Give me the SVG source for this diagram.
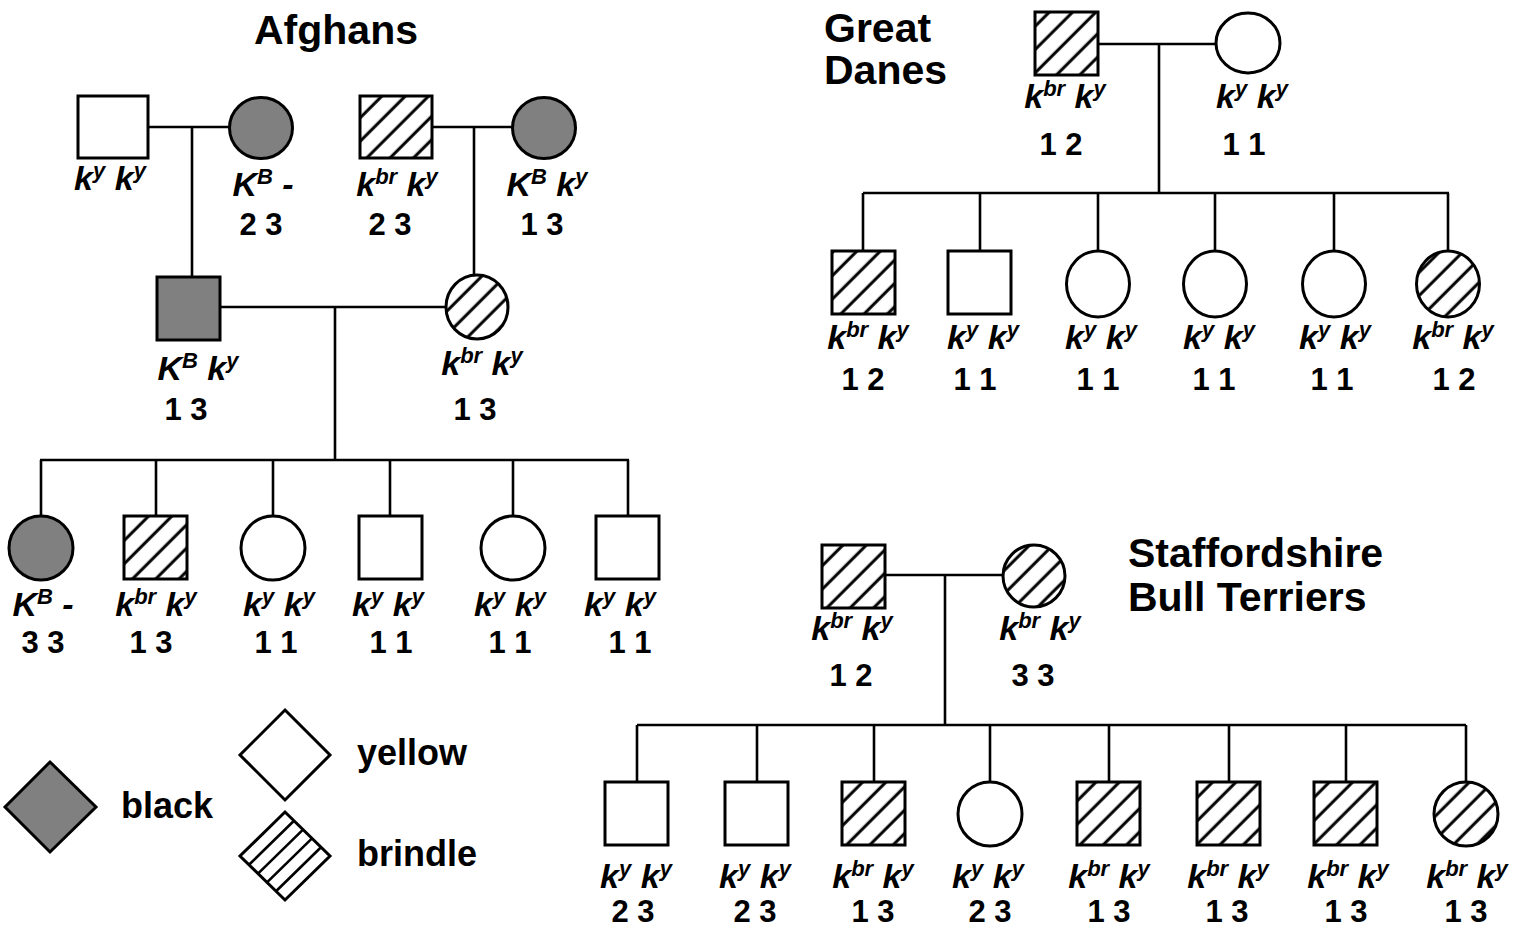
<svg xmlns="http://www.w3.org/2000/svg" width="1527" height="929" viewBox="0 0 1527 929">
  <defs>
    <pattern id="hatch" patternUnits="userSpaceOnUse" width="16.5" height="16.5" patternTransform="rotate(-45)">
      <line x1="-2" y1="8" x2="20" y2="8" stroke="#000" stroke-width="3"/>
    </pattern>
    <style>
      .nd { stroke: #000; stroke-width: 3; }
      .wh { fill: #fff; }
      .bk { fill: #808080; }
      .br { fill: url(#hatch); }
      .ln { stroke: #000; stroke-width: 2.6; fill: none; }
      .g { font-family: "Liberation Sans", Arial, sans-serif; font-style: italic; font-weight: bold; font-size: 34px; fill: #000; text-anchor: middle; }
      .s { font-size: 22px; }
      .n { font-family: "Liberation Sans", Arial, sans-serif; font-weight: bold; font-size: 31px; fill: #000; text-anchor: middle; }
      .t { font-family: "Liberation Sans", Arial, sans-serif; font-weight: bold; font-size: 41px; fill: #000; }
      .lg { font-family: "Liberation Sans", Arial, sans-serif; font-weight: bold; font-size: 36px; fill: #000; }
    </style>
  </defs>
  <rect width="1527" height="929" fill="#fff"/>

  <!-- titles -->
  <g id="titles">
    <text class="t" x="254" y="44">Afghans</text>
    <text class="t" x="824" y="42">Great</text>
    <text class="t" x="824" y="84">Danes</text>
    <text class="t" x="1128" y="567">Staffordshire</text>
    <text class="t" x="1128" y="611">Bull Terriers</text>
  </g>

  <!-- connectors -->
  <g id="connectors" class="ln">
    <!-- Afghans -->
    <path d="M148 127H230M192 127V277"/>
    <path d="M432 127H513M474 127V276"/>
    <path d="M220 307H446M335 307V460"/>
    <path d="M40 460H629"/>
    <path d="M41 460V516M156 460V516M273 460V516M390 460V516M513 460V516M628 460V516"/>
    <!-- Great Danes -->
    <path d="M1098 44H1216M1159 44V193"/>
    <path d="M863 193H1449"/>
    <path d="M863 193V251M980 193V251M1098 193V251M1215 193V251M1334 193V251M1448 193V251"/>
    <!-- Staffordshire Bull Terriers -->
    <path d="M885 575H1003M945 575V725"/>
    <path d="M637 725H1466"/>
    <path d="M637 725V782M757 725V782M874 725V782M990 725V782M1109 725V782M1229 725V782M1346 725V782M1466 725V782"/>
  </g>

  <!-- Afghans pedigree -->
  <g id="af-sire1"><rect class="nd wh" x="78" y="96" width="70" height="62"/>
    <text class="g" x="110" y="190">k<tspan class="s" dy="-12">y</tspan><tspan dy="12"> k</tspan><tspan class="s" dy="-12">y</tspan></text></g>
  <g id="af-dam1"><ellipse class="nd bk" cx="261" cy="128" rx="31.5" ry="30.5"/>
    <text class="g" x="263" y="196">K<tspan class="s" dy="-12">B</tspan><tspan dy="12"> -</tspan></text>
    <text class="n" x="261" y="235">2 3</text></g>
  <g id="af-sire2"><rect class="nd br" x="360" y="96" width="72" height="62"/>
    <text class="g" x="397" y="196">k<tspan class="s" dy="-12">br</tspan><tspan dy="12"> k</tspan><tspan class="s" dy="-12">y</tspan></text>
    <text class="n" x="390" y="235">2 3</text></g>
  <g id="af-dam2"><ellipse class="nd bk" cx="544" cy="128" rx="31.5" ry="30.5"/>
    <text class="g" x="547" y="196">K<tspan class="s" dy="-12">B</tspan><tspan dy="12"> k</tspan><tspan class="s" dy="-12">y</tspan></text>
    <text class="n" x="542" y="235">1 3</text></g>
  <g id="af-sire3"><rect class="nd bk" x="157" y="277" width="63" height="63"/>
    <text class="g" x="198" y="380">K<tspan class="s" dy="-12">B</tspan><tspan dy="12"> k</tspan><tspan class="s" dy="-12">y</tspan></text>
    <text class="n" x="186" y="420">1 3</text></g>
  <g id="af-dam3"><ellipse class="nd br" cx="477" cy="307" rx="31" ry="32"/>
    <text class="g" x="482" y="375">k<tspan class="s" dy="-12">br</tspan><tspan dy="12"> k</tspan><tspan class="s" dy="-12">y</tspan></text>
    <text class="n" x="475" y="420">1 3</text></g>
  <g id="af-pup1"><circle class="nd bk" cx="41" cy="548" r="32"/>
    <text class="g" x="43" y="616">K<tspan class="s" dy="-12">B</tspan><tspan dy="12"> -</tspan></text>
    <text class="n" x="43" y="653">3 3</text></g>
  <g id="af-pup2"><rect class="nd br" x="124" y="516" width="63" height="63"/>
    <text class="g" x="156" y="616">k<tspan class="s" dy="-12">br</tspan><tspan dy="12"> k</tspan><tspan class="s" dy="-12">y</tspan></text>
    <text class="n" x="151" y="653">1 3</text></g>
  <g id="af-pup3"><circle class="nd wh" cx="273" cy="548" r="32"/>
    <text class="g" x="279" y="616">k<tspan class="s" dy="-12">y</tspan><tspan dy="12"> k</tspan><tspan class="s" dy="-12">y</tspan></text>
    <text class="n" x="276" y="653">1 1</text></g>
  <g id="af-pup4"><rect class="nd wh" x="359" y="516" width="63" height="63"/>
    <text class="g" x="388" y="616">k<tspan class="s" dy="-12">y</tspan><tspan dy="12"> k</tspan><tspan class="s" dy="-12">y</tspan></text>
    <text class="n" x="391" y="653">1 1</text></g>
  <g id="af-pup5"><circle class="nd wh" cx="513" cy="548" r="32"/>
    <text class="g" x="510" y="616">k<tspan class="s" dy="-12">y</tspan><tspan dy="12"> k</tspan><tspan class="s" dy="-12">y</tspan></text>
    <text class="n" x="510" y="653">1 1</text></g>
  <g id="af-pup6"><rect class="nd wh" x="596" y="516" width="63" height="63"/>
    <text class="g" x="620" y="616">k<tspan class="s" dy="-12">y</tspan><tspan dy="12"> k</tspan><tspan class="s" dy="-12">y</tspan></text>
    <text class="n" x="630" y="653">1 1</text></g>

  <!-- Great Danes pedigree -->
  <g id="gd-sire"><rect class="nd br" x="1035" y="12" width="63" height="63"/>
    <text class="g" x="1065" y="108">k<tspan class="s" dy="-12">br</tspan><tspan dy="12"> k</tspan><tspan class="s" dy="-12">y</tspan></text>
    <text class="n" x="1061" y="155">1 2</text></g>
  <g id="gd-dam"><ellipse class="nd wh" cx="1248" cy="43" rx="32" ry="30"/>
    <text class="g" x="1252" y="108">k<tspan class="s" dy="-12">y</tspan><tspan dy="12"> k</tspan><tspan class="s" dy="-12">y</tspan></text>
    <text class="n" x="1244" y="155">1 1</text></g>
  <g id="gd-pup1"><rect class="nd br" x="832" y="251" width="63" height="63"/>
    <text class="g" x="868" y="349">k<tspan class="s" dy="-12">br</tspan><tspan dy="12"> k</tspan><tspan class="s" dy="-12">y</tspan></text>
    <text class="n" x="863" y="390">1 2</text></g>
  <g id="gd-pup2"><rect class="nd wh" x="948" y="251" width="63" height="63"/>
    <text class="g" x="983" y="349">k<tspan class="s" dy="-12">y</tspan><tspan dy="12"> k</tspan><tspan class="s" dy="-12">y</tspan></text>
    <text class="n" x="975" y="390">1 1</text></g>
  <g id="gd-pup3"><ellipse class="nd wh" cx="1098" cy="284" rx="31.5" ry="33"/>
    <text class="g" x="1101" y="349">k<tspan class="s" dy="-12">y</tspan><tspan dy="12"> k</tspan><tspan class="s" dy="-12">y</tspan></text>
    <text class="n" x="1098" y="390">1 1</text></g>
  <g id="gd-pup4"><ellipse class="nd wh" cx="1215" cy="284" rx="31.5" ry="33"/>
    <text class="g" x="1219" y="349">k<tspan class="s" dy="-12">y</tspan><tspan dy="12"> k</tspan><tspan class="s" dy="-12">y</tspan></text>
    <text class="n" x="1214" y="390">1 1</text></g>
  <g id="gd-pup5"><ellipse class="nd wh" cx="1334" cy="284" rx="31.5" ry="33"/>
    <text class="g" x="1335" y="349">k<tspan class="s" dy="-12">y</tspan><tspan dy="12"> k</tspan><tspan class="s" dy="-12">y</tspan></text>
    <text class="n" x="1332" y="390">1 1</text></g>
  <g id="gd-pup6"><ellipse class="nd br" cx="1448" cy="284" rx="31.5" ry="33"/>
    <text class="g" x="1453" y="349">k<tspan class="s" dy="-12">br</tspan><tspan dy="12"> k</tspan><tspan class="s" dy="-12">y</tspan></text>
    <text class="n" x="1454" y="390">1 2</text></g>

  <!-- Staffordshire Bull Terriers pedigree -->
  <g id="st-sire"><rect class="nd br" x="822" y="545" width="63" height="63"/>
    <text class="g" x="852" y="640">k<tspan class="s" dy="-12">br</tspan><tspan dy="12"> k</tspan><tspan class="s" dy="-12">y</tspan></text>
    <text class="n" x="851" y="686">1 2</text></g>
  <g id="st-dam"><ellipse class="nd br" cx="1034" cy="576" rx="31" ry="31"/>
    <text class="g" x="1040" y="640">k<tspan class="s" dy="-12">br</tspan><tspan dy="12"> k</tspan><tspan class="s" dy="-12">y</tspan></text>
    <text class="n" x="1033" y="686">3 3</text></g>
  <g id="st-pup1"><rect class="nd wh" x="605" y="782" width="63" height="63"/>
    <text class="g" x="636" y="888">k<tspan class="s" dy="-12">y</tspan><tspan dy="12"> k</tspan><tspan class="s" dy="-12">y</tspan></text>
    <text class="n" x="633" y="922">2 3</text></g>
  <g id="st-pup2"><rect class="nd wh" x="725" y="782" width="63" height="63"/>
    <text class="g" x="755" y="888">k<tspan class="s" dy="-12">y</tspan><tspan dy="12"> k</tspan><tspan class="s" dy="-12">y</tspan></text>
    <text class="n" x="755" y="922">2 3</text></g>
  <g id="st-pup3"><rect class="nd br" x="842" y="782" width="63" height="63"/>
    <text class="g" x="873" y="888">k<tspan class="s" dy="-12">br</tspan><tspan dy="12"> k</tspan><tspan class="s" dy="-12">y</tspan></text>
    <text class="n" x="873" y="922">1 3</text></g>
  <g id="st-pup4"><circle class="nd wh" cx="990" cy="814" r="32"/>
    <text class="g" x="988" y="888">k<tspan class="s" dy="-12">y</tspan><tspan dy="12"> k</tspan><tspan class="s" dy="-12">y</tspan></text>
    <text class="n" x="990" y="922">2 3</text></g>
  <g id="st-pup5"><rect class="nd br" x="1077" y="782" width="63" height="63"/>
    <text class="g" x="1109" y="888">k<tspan class="s" dy="-12">br</tspan><tspan dy="12"> k</tspan><tspan class="s" dy="-12">y</tspan></text>
    <text class="n" x="1109" y="922">1 3</text></g>
  <g id="st-pup6"><rect class="nd br" x="1197" y="782" width="63" height="63"/>
    <text class="g" x="1228" y="888">k<tspan class="s" dy="-12">br</tspan><tspan dy="12"> k</tspan><tspan class="s" dy="-12">y</tspan></text>
    <text class="n" x="1227" y="922">1 3</text></g>
  <g id="st-pup7"><rect class="nd br" x="1314" y="782" width="63" height="63"/>
    <text class="g" x="1348" y="888">k<tspan class="s" dy="-12">br</tspan><tspan dy="12"> k</tspan><tspan class="s" dy="-12">y</tspan></text>
    <text class="n" x="1346" y="922">1 3</text></g>
  <g id="st-pup8"><circle class="nd br" cx="1466" cy="814" r="32"/>
    <text class="g" x="1467" y="888">k<tspan class="s" dy="-12">br</tspan><tspan dy="12"> k</tspan><tspan class="s" dy="-12">y</tspan></text>
    <text class="n" x="1466" y="922">1 3</text></g>

  <!-- legend -->
  <g id="legend-black">
    <polygon class="nd bk" points="50,762 96,807 50,852 5,807"/>
    <text class="lg" x="121" y="818">black</text>
  </g>
  <g id="legend-yellow">
    <polygon class="nd wh" points="285,710 330,755 285,800 240,755"/>
    <text class="lg" x="357" y="765">yellow</text>
  </g>
  <g id="legend-brindle">
    <polygon class="nd wh" points="285,812 330,856 285,900 240,856"/>
    <path class="ln" stroke-width="3" d="M249 864.8L294 820.8M258 873.6L303 829.6M267 882.4L312 838.4M276 891.2L321 847.2"/>
    <text class="lg" x="357" y="866">brindle</text>
  </g>
</svg>
